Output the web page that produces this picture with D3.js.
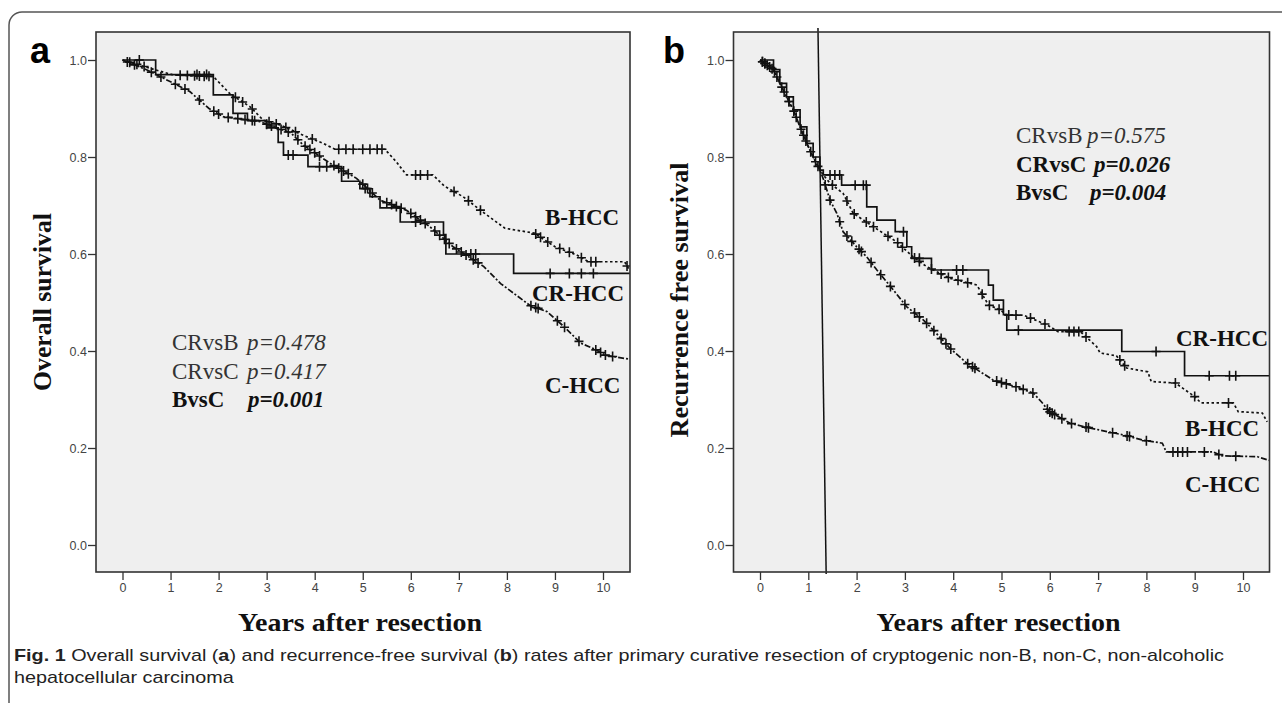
<!DOCTYPE html>
<html>
<head>
<meta charset="utf-8">
<script src="https://cdn.jsdelivr.net/npm/d3@7"></script>
<style>
  html, body { margin: 0; padding: 0; background: #fff; }
  svg { display: block; }
</style>
</head>
<body>
<div id="chart"></div>
<script>
// ---------- data ----------
const yearTicks = [0, 1, 2, 3, 4, 5, 6, 7, 8, 9, 10];
const survTicks = [0.0, 0.2, 0.4, 0.6, 0.8, 1.0];

// panel a : overall survival
const aCRTime = [0, 0.69, 1.89, 2.30, 2.60, 3.00, 3.24, 3.35, 3.86, 4.56, 4.94, 5.15, 5.36, 5.78, 6.68, 6.73, 8.14, 10.56];
const aCRSurv = [1.0, 0.970, 0.928, 0.890, 0.875, 0.860, 0.830, 0.804, 0.780, 0.750, 0.735, 0.718, 0.695, 0.666, 0.640, 0.600, 0.560, 0.560];
const aCRCensor = [0.35, 1.55, 1.75, 2.75, 3.45, 3.55, 4.1, 4.25, 5.05, 6.1, 7.25, 7.35, 8.9, 9.3, 9.55, 9.8];

const aBTime = [0, 0.5, 1.06, 1.89, 2.24, 2.65, 2.93, 3.28, 3.83, 4.18, 4.42, 5.46, 5.70, 5.91, 6.46, 6.70, 7.09, 7.52, 7.96, 8.57, 9.00, 9.45, 9.70, 10.45, 10.56];
const aBSurv = [1.0, 0.985, 0.969, 0.966, 0.930, 0.904, 0.876, 0.866, 0.842, 0.828, 0.816, 0.816, 0.790, 0.763, 0.763, 0.740, 0.718, 0.685, 0.653, 0.643, 0.615, 0.598, 0.584, 0.584, 0.565];
const aBCensor = [0.15, 0.3, 0.45, 1.2, 1.35, 1.5, 1.6, 1.7, 1.8, 2.35, 2.5, 2.7, 3.05, 3.2, 3.4, 3.6, 3.95, 4.5, 4.65, 4.8, 5.0, 5.15, 5.3, 5.4, 6.1, 6.2, 6.35, 6.9, 7.2, 7.45, 8.6, 8.7, 8.85, 9.1, 9.3, 9.55, 9.75, 9.85, 10.5];

const aCTime = [0, 0.5, 1.0, 1.4, 1.8, 2.1, 2.86, 3.2, 3.5, 3.76, 4.32, 4.87, 5.36, 5.91, 6.40, 6.88, 7.52, 7.87, 8.48, 8.84, 9.19, 9.54, 9.80, 10.06, 10.56];
const aCSurv = [1.0, 0.980, 0.955, 0.935, 0.900, 0.883, 0.873, 0.860, 0.850, 0.825, 0.787, 0.756, 0.711, 0.690, 0.656, 0.615, 0.574, 0.539, 0.494, 0.481, 0.450, 0.416, 0.405, 0.391, 0.383];
const aCCensor = [0.1, 0.25, 0.6, 0.8, 1.1, 1.3, 1.6, 1.9, 2.0, 2.2, 2.4, 2.55, 2.7, 3.0, 3.1, 3.3, 3.45, 3.65, 3.8, 3.9, 4.0, 4.1, 4.4, 4.5, 4.6, 4.7, 5.0, 5.1, 5.2, 5.5, 5.6, 5.7, 5.8, 6.0, 6.1, 6.2, 6.3, 6.5, 6.6, 6.7, 6.8, 6.95, 7.05, 7.15, 7.3, 7.4, 8.5, 8.6, 8.65, 9.05, 9.2, 9.5, 9.85, 9.95, 10.05, 10.2];

// panel b : recurrence free survival
const bCRTime = [0, 0.28, 0.41, 0.55, 0.69, 0.83, 0.97, 1.10, 1.24, 1.31, 1.69, 2.21, 2.42, 2.80, 3.04, 3.14, 3.55, 4.73, 4.83, 5.04, 5.11, 7.49, 8.79, 10.56];
const bCRSurv = [1.0, 0.98, 0.952, 0.924, 0.897, 0.862, 0.828, 0.80, 0.773, 0.763, 0.742, 0.697, 0.670, 0.646, 0.615, 0.591, 0.567, 0.536, 0.505, 0.475, 0.443, 0.399, 0.349, 0.349];
const bCRCensor = [1.45, 1.55, 1.65, 1.97, 2.14, 2.2, 2.97, 3.3, 4.07, 4.2, 5.35, 8.2, 9.3, 9.72, 9.85];

const bBTime = [0, 0.28, 0.41, 0.55, 0.69, 0.83, 0.97, 1.10, 1.24, 1.31, 1.45, 1.72, 1.93, 2.14, 2.55, 2.83, 3.17, 3.45, 3.93, 4.49, 4.73, 4.97, 5.11, 5.45, 5.94, 6.17, 6.63, 6.97, 7.04, 7.38, 7.59, 8.03, 8.10, 8.60, 9.00, 9.13, 9.80, 9.90, 10.40, 10.50];
const bBSurv = [1.0, 0.98, 0.952, 0.924, 0.897, 0.862, 0.828, 0.80, 0.773, 0.763, 0.746, 0.725, 0.684, 0.670, 0.643, 0.625, 0.594, 0.574, 0.550, 0.536, 0.495, 0.485, 0.474, 0.474, 0.454, 0.440, 0.440, 0.409, 0.396, 0.390, 0.365, 0.357, 0.337, 0.334, 0.306, 0.293, 0.293, 0.275, 0.272, 0.254];
const bBCensor = [0.05, 0.1, 0.2, 0.35, 0.5, 0.6, 0.75, 0.9, 1.05, 1.2, 1.5, 1.8, 1.95, 2.2, 2.35, 2.65, 2.85, 2.95, 3.2, 3.3, 3.55, 3.75, 3.9, 4.1, 4.3, 4.6, 4.75, 4.95, 5.15, 5.3, 5.6, 5.9, 6.4, 6.5, 6.6, 6.75, 7.45, 7.55, 8.6, 9.0, 9.7];

const bCTime = [0, 0.28, 0.41, 0.55, 0.69, 0.83, 0.97, 1.10, 1.24, 1.31, 1.45, 1.59, 1.72, 2.00, 2.21, 2.42, 2.76, 3.04, 3.38, 3.59, 3.93, 4.28, 4.83, 5.31, 5.66, 5.82, 5.99, 6.42, 6.84, 7.52, 7.94, 8.33, 8.41, 9.38, 9.55, 10.30, 10.56];
const bCSurv = [1.0, 0.98, 0.952, 0.924, 0.897, 0.862, 0.828, 0.80, 0.773, 0.755, 0.711, 0.684, 0.646, 0.615, 0.594, 0.567, 0.526, 0.491, 0.464, 0.443, 0.406, 0.375, 0.340, 0.326, 0.313, 0.296, 0.275, 0.251, 0.241, 0.227, 0.216, 0.210, 0.192, 0.192, 0.184, 0.182, 0.174];
const bCCensor = [0.05, 0.1, 0.15, 0.25, 0.3, 0.45, 0.6, 0.7, 0.85, 0.95, 1.15, 1.35, 1.45, 1.65, 1.8, 1.9, 2.05, 2.1, 2.3, 2.5, 2.7, 3.0, 3.2, 3.3, 3.45, 3.6, 3.75, 3.85, 3.95, 4.3, 4.4, 4.45, 4.9, 5.0, 5.1, 5.3, 5.45, 5.65, 5.95, 6.0, 6.05, 6.1, 6.25, 6.45, 6.75, 6.8, 7.3, 7.6, 7.65, 8.0, 8.55, 8.65, 8.75, 8.85, 9.2, 9.5, 9.85];

// slanted reference line drawn on panel b (years at top / bottom of the box)
const bRefLineYears = [1.20, 1.37];

const curveNames = ['CR-HCC', 'B-HCC', 'C-HCC'];
const aPText = [['CRvsB', 'p=0.478'], ['CRvsC', 'p=0.417'], ['BvsC', 'p=0.001']];
const bPText = [['CRvsB', 'p=0.575'], ['CRvsC', 'p=0.026'], ['BvsC', 'p=0.004']];

// ---------- drawing ----------
const width = 1282, height = 703;
const serif = '"Liberation Serif", "Times New Roman", serif';
const sans = '"Liberation Sans", Arial, sans-serif';

const svg = d3.select('#chart').append('svg')
  .attr('width', width).attr('height', height);

// outer figure frame (rounded, runs off the right and bottom)
svg.append('rect')
  .attr('x', 9).attr('y', 12).attr('width', 1300).attr('height', 720)
  .attr('rx', 13)
  .attr('fill', 'none').attr('stroke', '#555').attr('stroke-width', 1.5);

// value of a curve at time t (step for solid curve, linear for dense ones)
function survAt(times, surv, t, stepped) {
  let i = d3.bisectRight(times, t) - 1;
  if (i < 0) return surv[0];
  if (stepped || i >= times.length - 1) return surv[i];
  const f = (t - times[i]) / (times[i + 1] - times[i]);
  return surv[i] + f * (surv[i + 1] - surv[i]);
}

function drawPanel(p) {
  const g = svg.append('g');
  const x = d3.scaleLinear().domain([0, 10]).range(p.xRange);
  const y = d3.scaleLinear().domain([0, 1]).range([545, 60]);

  // plot background
  g.append('rect')
    .attr('x', p.box[0]).attr('y', 32)
    .attr('width', p.box[1] - p.box[0]).attr('height', 572 - 32)
    .attr('fill', '#efefef');

  const clipId = 'clip-' + p.letter;
  svg.append('clipPath').attr('id', clipId)
    .append('rect')
    .attr('x', p.box[0]).attr('y', 28)
    .attr('width', p.box[1] - p.box[0]).attr('height', 546);

  // axes
  const yAxis = d3.axisLeft(y).tickValues(survTicks).tickFormat(d3.format('.1f'))
    .tickSize(8).tickPadding(1);
  const gy = g.append('g').attr('transform', `translate(${p.box[0]},0)`).call(yAxis);
  const xAxis = d3.axisBottom(x).tickValues(yearTicks).tickSize(8).tickPadding(3);
  const gx = g.append('g').attr('transform', 'translate(0,572)').call(xAxis);
  [gx, gy].forEach(a => {
    a.select('.domain').remove();
    a.selectAll('line').attr('stroke', '#333').attr('stroke-width', 1.3);
    a.selectAll('text').attr('fill', '#444')
      .style('font-family', sans).style('font-size', '12.5px');
  });

  const plot = g.append('g').attr('clip-path', `url(#${clipId})`);

  if (p.refLine) {
    plot.append('line')
      .attr('x1', x(p.refLine[0])).attr('y1', 28)
      .attr('x2', x(p.refLine[1])).attr('y2', 574)
      .attr('stroke', '#111').attr('stroke-width', 1.5);
  }

  p.curves.forEach(c => {
    const pts = c.time.map((t, i) => [t, c.surv[i]]);
    const line = d3.line()
      .x(d => x(d[0])).y(d => y(d[1]))
      .curve(c.stepped ? d3.curveStepAfter : d3.curveLinear);
    plot.append('path')
      .attr('d', line(pts))
      .attr('fill', 'none')
      .attr('stroke', '#111')
      .attr('stroke-width', 1.7)
      .attr('stroke-dasharray', c.dash);

    plot.selectAll(null)
      .data(c.censor)
      .enter()
      .append('path')
      .attr('transform', t => `translate(${x(t)},${y(survAt(c.time, c.surv, t, c.stepped))})`)
      .attr('d', 'M-4.5,0H4.5M0,-5V5')
      .attr('stroke', '#111')
      .attr('stroke-width', 1.6);
  });

  // frame of the plot area
  g.append('rect')
    .attr('x', p.box[0]).attr('y', 32)
    .attr('width', p.box[1] - p.box[0]).attr('height', 572 - 32)
    .attr('fill', 'none').attr('stroke', '#333').attr('stroke-width', 1.6);

  // curve labels
  p.labels.forEach((l, i) => {
    g.append('text')
      .attr('x', l[0]).attr('y', l[1])
      .style('font-family', serif).style('font-weight', 'bold').style('font-size', '23px')
      .attr('fill', '#111')
      .text(curveNames[i]);
  });

  // p-value block
  p.pText.forEach((row, i) => {
    const bold = p.boldRows.includes(i);
    const col = bold ? '#111' : '#333';
    g.append('text')
      .attr('x', p.pBlock[0]).attr('y', p.pBlock[1] + i * 28.5)
      .style('font-family', serif).style('font-size', '23px')
      .style('font-weight', bold ? 'bold' : 'normal')
      .attr('fill', col)
      .text(row[0]);
    g.append('text')
      .attr('x', p.pX[i]).attr('y', p.pBlock[1] + i * 28.5)
      .style('font-family', serif).style('font-size', '23px')
      .style('font-style', 'italic')
      .style('font-weight', bold ? 'bold' : 'normal')
      .attr('fill', col)
      .text(row[1]);
  });

  // axis titles
  g.append('text')
    .attr('x', (p.box[0] + p.box[1]) / 2 - 3).attr('y', 631)
    .attr('text-anchor', 'middle')
    .attr('textLength', 244).attr('lengthAdjust', 'spacingAndGlyphs')
    .style('font-family', serif).style('font-weight', 'bold').style('font-size', '26px')
    .attr('fill', '#111')
    .text('Years after resection');

  g.append('text')
    .attr('transform', `translate(${p.yTitle[0]},${p.yTitle[1]}) rotate(-90)`)
    .attr('text-anchor', 'middle')
    .attr('textLength', p.yTitle[2]).attr('lengthAdjust', 'spacingAndGlyphs')
    .style('font-family', serif).style('font-weight', 'bold').style('font-size', '25px')
    .attr('fill', '#111')
    .text(p.yTitleText);

  // panel letter
  g.append('text')
    .attr('x', p.letterPos[0]).attr('y', p.letterPos[1])
    .style('font-family', sans).style('font-weight', 'bold').style('font-size', '36px')
    .attr('fill', '#000')
    .text(p.letter);
}

drawPanel({
  letter: 'a', letterPos: [30, 63],
  box: [96, 630], xRange: [122.5, 603],
  curves: [
    { time: aCRTime, surv: aCRSurv, censor: aCRCensor, stepped: true, dash: null },
    { time: aBTime, surv: aBSurv, censor: aBCensor, stepped: false, dash: '2.5,2.5' },
    { time: aCTime, surv: aCSurv, censor: aCCensor, stepped: false, dash: '6,2,2,2' }
  ],
  labels: [[532, 301], [545, 225], [545, 393]],
  pText: aPText, boldRows: [2], pBlock: [172, 350], pX: [247, 247, 248],
  yTitle: [51, 302, 178], yTitleText: 'Overall survival'
});

drawPanel({
  letter: 'b', letterPos: [663, 63],
  box: [733.5, 1269.5], xRange: [760, 1243],
  refLine: bRefLineYears,
  curves: [
    { time: bCRTime, surv: bCRSurv, censor: bCRCensor, stepped: true, dash: null },
    { time: bBTime, surv: bBSurv, censor: bBCensor, stepped: false, dash: '2.5,2.5' },
    { time: bCTime, surv: bCSurv, censor: bCCensor, stepped: false, dash: '6,2,2,2' }
  ],
  labels: [[1176, 346], [1185, 436], [1185, 492]],
  pText: bPText, boldRows: [1, 2], pBlock: [1016, 143], pX: [1087, 1094, 1090],
  yTitle: [688, 300, 275], yTitleText: 'Recurrence free survival'
});

// caption
const capFont = '"Liberation Sans Narrow", "Liberation Sans", Arial, sans-serif';
const cap1 = svg.append('text')
  .attr('x', 14).attr('y', 661)
  .style('font-family', capFont)
  .style('font-size', '17px').attr('fill', '#222');
cap1.append('tspan').style('font-weight', 'bold').text('Fig. 1');
cap1.append('tspan').text(' Overall survival (');
cap1.append('tspan').style('font-weight', 'bold').text('a');
cap1.append('tspan').text(') and recurrence-free survival (');
cap1.append('tspan').style('font-weight', 'bold').text('b');
cap1.append('tspan').text(') rates after primary curative resection of cryptogenic non-B, non-C, non-alcoholic');
const natural1 = cap1.node().getComputedTextLength();
const squeeze = 1210 / natural1;
cap1.attr('textLength', 1210).attr('lengthAdjust', 'spacingAndGlyphs');

const cap2 = svg.append('text')
  .attr('x', 14).attr('y', 683)
  .style('font-family', capFont)
  .style('font-size', '17px').attr('fill', '#222')
  .text('hepatocellular carcinoma');
cap2.attr('textLength', cap2.node().getComputedTextLength() * squeeze)
  .attr('lengthAdjust', 'spacingAndGlyphs');
</script>
</body>
</html>
